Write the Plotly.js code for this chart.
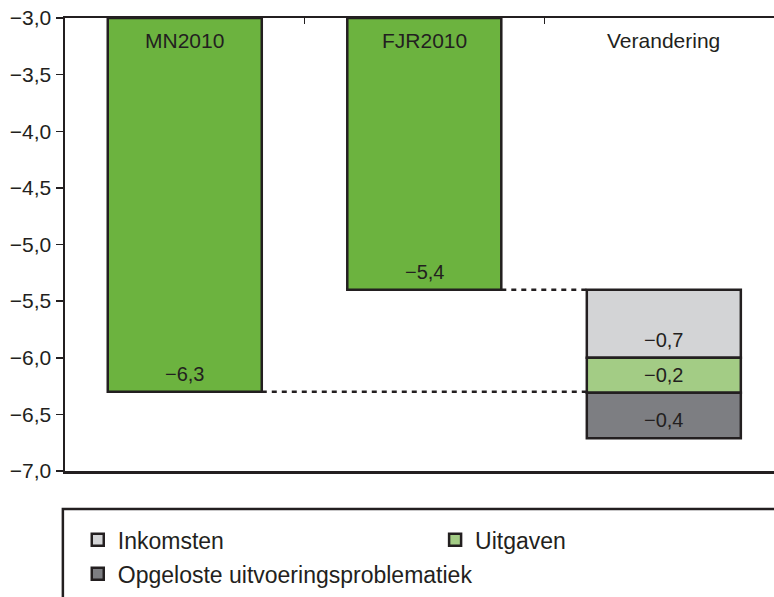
<!DOCTYPE html>
<html><head><meta charset="utf-8">
<script src="https://cdn.plot.ly/plotly-3.0.1.min.js"></script>
<style>html,body{margin:0;padding:0;background:#fff}#chart{width:774px;height:597px}</style>
</head><body><div id="chart"></div>
<script>
// ---- data ----
const startCategories = ['MN2010', 'FJR2010'];
const startValues = [-6.3, -5.4];
const changeCategory = 'Verandering';
const changeNames = ['Inkomsten', 'Uitgaven', 'Opgeloste uitvoeringsproblematiek'];
const changeValues = [-0.6, -0.31, -0.4];          // segment heights as drawn
const changeLabels = ['\u22120,7', '\u22120,2', '\u22120,4']; // printed labels
const axisTop = -3.0;
const axisBottom = -7.0;

// ---- styles ----
const INK = '#231f20';
const GREEN = '#6cb33f';
const changeColors = ['#d3d4d6', '#a3cc85', '#7d7e82'];
const FONT = 'Liberation Sans, Arial, sans-serif';
const BW = 0.643;

function fmt(v) { return v.toFixed(1).replace('.', ',').replace('-', '\u2212'); }

const traces = [];
const annotations = [];
const legendIds = ['legend', 'legend2', 'legend3'];

// start bars
traces.push({
  type: 'bar', x: startCategories.map((c, i) => i),
  y: startValues.map(v => v - axisTop), base: startValues.map(() => axisTop),
  width: BW, marker: {color: GREEN, line: {color: INK, width: 2.5}},
  showlegend: false, hoverinfo: 'skip'
});
const cx = startCategories.length;
// change bars (stacked)
let cum = startValues[startValues.length - 1];
changeValues.forEach((v, i) => {
  traces.push({
    type: 'bar', x: [cx], y: [v], base: [cum], width: BW, name: changeNames[i],
    marker: {color: changeColors[i], line: {color: INK, width: 2.5}},
    legend: legendIds[i], hoverinfo: 'skip'
  });
  annotations.push({x: cx, y: cum + v, yref: 'y', xref: 'x', text: changeLabels[i], showarrow: false,
    yanchor: 'bottom', yshift: 5, font: {size: 20, color: INK, family: FONT}});
  cum += v;
});
// connectors
startValues.forEach((v, i) => {
  traces.push({type: 'scatter', mode: 'lines', x: [i + BW / 2, cx - BW / 2], y: [v, v],
    line: {color: INK, width: 2.5, dash: '5px,5px'}, showlegend: false, hoverinfo: 'skip'});
});
// labels
startCategories.concat([changeCategory]).forEach((c, i) => {
  annotations.push({x: i, y: axisTop, xref: 'x', yref: 'y', text: c, showarrow: false,
    yanchor: 'top', yshift: -9, font: {size: 21, color: INK, family: FONT}});
});
startValues.forEach((v, i) => {
  annotations.push({x: i, y: v, xref: 'x', yref: 'y', text: fmt(v), showarrow: false,
    yanchor: 'bottom', yshift: 5, font: {size: 20, color: INK, family: FONT}});
});

const legFont = {size: 23, color: INK, family: FONT};
const layout = {
  width: 774, height: 597,
  margin: {l: 65, r: 0, t: 18, b: 126},
  paper_bgcolor: '#fff', plot_bgcolor: '#fff',
  separators: ', ',
  barmode: 'overlay',
  font: {family: FONT, size: 20, color: INK},
  xaxis: {range: [-0.5, 2.46], side: 'top', showline: true, mirror: true, linecolor: INK, linewidth: 2.5,
    tickvals: [0.5, 1.5], ticks: 'inside', ticklen: 6, tickwidth: 1, tickcolor: INK,
    showticklabels: false, showgrid: false, zeroline: false, fixedrange: true},
  yaxis: {range: [axisBottom, axisTop], dtick: 0.5, tick0: 0, tickformat: '.1f', showline: true,
    linecolor: INK, linewidth: 2.5, ticks: 'outside', ticklen: 7, tickwidth: 1.5, tickcolor: INK,
    showgrid: false, zeroline: false, tickfont: {size: 21, color: INK, family: FONT}, fixedrange: true},
  legend: {orientation: 'h', x: 0.018, xanchor: 'left', y: -0.152, yanchor: 'middle',
    font: legFont, bgcolor: 'rgba(0,0,0,0)'},
  legend2: {orientation: 'h', x: 0.522, xanchor: 'left', y: -0.152, yanchor: 'middle',
    font: legFont, bgcolor: 'rgba(0,0,0,0)'},
  legend3: {orientation: 'h', x: 0.018, xanchor: 'left', y: -0.227, yanchor: 'middle',
    font: legFont, bgcolor: 'rgba(0,0,0,0)'},
  shapes: [{type: 'rect', xref: 'paper', yref: 'paper', x0: -0.003, x1: 1.05, y0: -0.084, y1: -0.4,
    line: {color: INK, width: 2.5}, fillcolor: 'rgba(0,0,0,0)'}],
  annotations: annotations
};

Plotly.newPlot('chart', traces, layout, {displayModeBar: false, staticPlot: true});
</script>
</body></html>
